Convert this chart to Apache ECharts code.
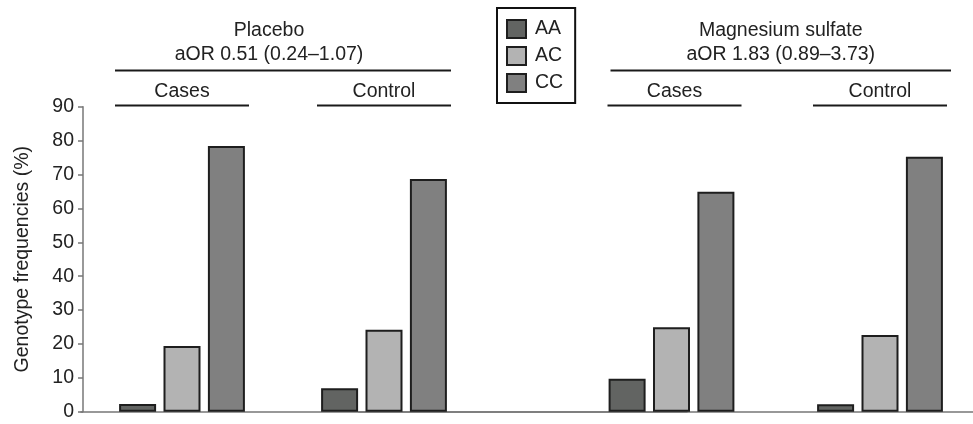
<!DOCTYPE html>
<html>
<head>
<meta charset="utf-8">
<script src="https://cdn.jsdelivr.net/npm/echarts@6/dist/echarts.min.js"></script>
<style>
  html, body { margin: 0; padding: 0; background: #fff; }
  #chart { width: 973px; height: 424px; }
</style>
</head>
<body>
<div id="chart"></div>
<script>
// genotype frequencies (%)
const genotypes = ['AA', 'AC', 'CC'];
const placeboGroups = ['Cases', 'Control'];
const magnesiumGroups = ['Cases', 'Control'];
const placeboAA = [2.3, 6.9];
const placeboAC = [19.4, 24.2];
const placeboCC = [78.4, 68.7];
const magnesiumAA = [9.7, 2.2];
const magnesiumAC = [24.9, 22.6];
const magnesiumCC = [64.9, 75.2];
const yTicks = { min: 0, max: 90, interval: 10 };
const headers = [
    { title: 'Placebo', aor: 'aOR 0.51 (0.24\u20131.07)' },
    { title: 'Magnesium sulfate', aor: 'aOR 1.83 (0.89\u20133.73)' },
];

const fills = { AA: '#626462', AC: '#b3b3b3', CC: '#808080' };
const font = 'Liberation Sans, Arial, sans-serif';
const ink = '#222';
const axisGray = '#777';

const chart = echarts.init(document.getElementById('chart'), null, { renderer: 'canvas' });

function barSeries(name, data, axisIndex) {
    return {
        type: 'bar',
        name: name,
        data: data,
        xAxisIndex: axisIndex,
        yAxisIndex: axisIndex,
        barWidth: 37,
        barGap: '20%',
        itemStyle: { color: fills[name], borderColor: '#1e1e1e', borderWidth: 2 },
        emphasis: { disabled: true },
        animation: false,
    };
}

const xAxisBase = {
    type: 'category',
    axisLine: { lineStyle: { color: axisGray, width: 1.5 } },
    axisTick: { show: false },
    axisLabel: { show: false },
};

// each panel gets a blank padding slot so the two baselines overlap into one line
chart.setOption({
    backgroundColor: '#fff',
    animation: false,
    textStyle: { fontFamily: font },
    grid: [
        { left: 81, width: 606, top: 106.7, bottom: 12.3, outerBoundsMode: 'none' },
        { left: 358.75, width: 625.5, top: 106.7, bottom: 12.3, outerBoundsMode: 'none' },
    ],
    xAxis: [
        Object.assign({ gridIndex: 0, data: placeboGroups.concat(['']) }, xAxisBase),
        Object.assign({ gridIndex: 1, data: [''].concat(magnesiumGroups) }, xAxisBase),
    ],
    yAxis: [
        {
            gridIndex: 0, type: 'value', offset: -2,
            min: yTicks.min, max: yTicks.max, interval: yTicks.interval,
            name: 'Genotype frequencies (%)',
            nameLocation: 'middle', nameGap: 50,
            nameTextStyle: { color: ink, fontSize: 19.5, fontFamily: font },
            axisLine: { show: true, lineStyle: { color: axisGray, width: 1.5 } },
            axisTick: { show: true, length: 5, lineStyle: { color: axisGray, width: 1.5 } },
            axisLabel: { color: ink, fontSize: 19.5, fontFamily: font, margin: 9 },
            splitLine: { show: false },
        },
        {
            gridIndex: 1, type: 'value', show: false,
            min: yTicks.min, max: yTicks.max, interval: yTicks.interval,
            splitLine: { show: false },
        },
    ],
    legend: {
        data: genotypes,
        orient: 'vertical',
        left: 497, top: 8,
        padding: [11, 12, 10, 9],
        itemGap: 7,
        itemWidth: 19,
        itemHeight: 18,
        borderColor: '#111',
        borderWidth: 2,
        selectedMode: false,
        icon: 'rect',
        itemStyle: { borderColor: '#1e1e1e', borderWidth: 2 },
        textStyle: { color: ink, fontSize: 19.5, fontFamily: font, padding: [0, 0, 0, 4] },
    },
    series: [
        barSeries('AA', placeboAA, 0),
        barSeries('AC', placeboAC, 0),
        barSeries('CC', placeboCC, 0),
        barSeries('AA', [null].concat(magnesiumAA), 1),
        barSeries('AC', [null].concat(magnesiumAC), 1),
        barSeries('CC', [null].concat(magnesiumCC), 1),
    ],
});

// group brackets and panel headings, placed from the category axes
function centerOf(axisIndex, cat) {
    return chart.convertToPixel({ xAxisIndex: axisIndex }, cat);
}
const half = 67;
const panels = [
    { axis: 0, cats: placeboGroups, textShift: -14, shift: [0, 0], longPad: [0, 0] },
    { axis: 1, cats: magnesiumGroups, textShift: 5, shift: [3, 0], longPad: [6, 4] },
];
const graphics = [];
const lineStyle = { stroke: '#1a1a1a', lineWidth: 2 };
panels.forEach((p, i) => {
    const c0 = centerOf(p.axis, p.cats[0]);
    const c1 = centerOf(p.axis, p.cats[1]);
    p.cats.forEach((cat, k) => {
        const c = centerOf(p.axis, cat) + p.shift[k];
        graphics.push({ type: 'line', shape: { x1: c - half, y1: 105.5, x2: c + half, y2: 105.5 }, style: lineStyle, silent: true });
        graphics.push({ type: 'text', x: c, y: 92, style: { text: cat, fill: ink, font: '19.5px ' + font, align: 'center', verticalAlign: 'middle' }, silent: true });
    });
    const mid = (c0 + c1) / 2;
    graphics.push({ type: 'line', shape: { x1: c0 - half + p.longPad[0], y1: 70.5, x2: c1 + half + p.longPad[1], y2: 70.5 }, style: lineStyle, silent: true });
    graphics.push({ type: 'text', x: mid + p.textShift, y: 31, style: { text: headers[i].title, fill: ink, font: '19.5px ' + font, align: 'center', verticalAlign: 'middle' }, silent: true });
    graphics.push({ type: 'text', x: mid + p.textShift, y: 55, style: { text: headers[i].aor, fill: ink, font: '19.5px ' + font, align: 'center', verticalAlign: 'middle' }, silent: true });
});
chart.setOption({ graphic: graphics });
</script>
</body>
</html>
